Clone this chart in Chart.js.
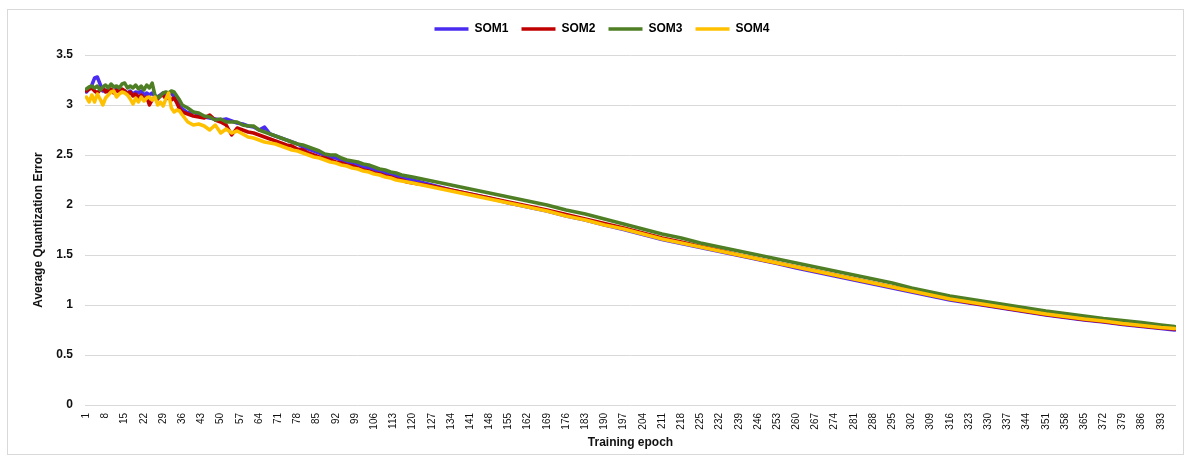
<!DOCTYPE html>
<html>
<head>
<meta charset="utf-8">
<script src="https://cdn.jsdelivr.net/npm/chart.js@4.4.0/dist/chart.umd.min.js"></script>
<style>
  body { margin: 0; background: #fff; }
  #wrap { position: absolute; left: 7px; top: 9px; width: 1175px; height: 444px; border: 1px solid #d9d9d9; }
</style>
</head>
<body>
<div id="wrap"><canvas id="c" width="1175" height="444"></canvas></div>
<script>
var epochs = [1,2,3,4,5,6,7,8,9,10,11,12,13,14,15,16,17,18,19,20,21,22,23,24,25,26,27,28,29,30,31,32,33,34,35,36,
  38,40,42,44,46,48,50,52,54,56,58,60,62,64,66,68,70,72,74,76,78,80,82,84,86,88,90,92,94,96,98,100,102,104,106,108,110,112,114,116,118,120,
  127,134,141,148,155,162,169,176,183,190,197,204,211,218,225,232,239,246,253,260,267,274,281,288,295,302,309,316,323,330,337,344,351,358,365,372,379,386,393,398];

// x axis tick labels (every 7th epoch)
var tickEpochs = [1,8,15,22,29,36,43,50,57,64,71,78,85,92,99,106,113,120,127,134,141,148,155,162,169,176,183,190,197,204,211,218,225,232,239,246,253,260,267,274,281,288,295,302,309,316,323,330,337,344,351,358,365,372,379,386,393];

var som1 = [3.13,3.16,3.20,3.27,3.28,3.21,3.14,3.15,3.13,3.15,3.14,3.16,3.13,3.15,3.14,3.12,3.14,3.11,3.13,3.12,3.14,3.10,3.12,3.10,3.12,3.09,3.08,3.10,3.12,3.09,3.11,3.12,3.08,3.04,3.00,2.96,
  2.92,2.93,2.90,2.88,2.87,2.86,2.85,2.86,2.84,2.82,2.81,2.79,2.78,2.75,2.78,2.71,2.69,2.67,2.65,2.63,2.61,2.58,2.56,2.54,2.52,2.50,2.48,2.47,2.45,2.43,2.41,2.40,2.38,2.37,2.35,2.33,2.32,2.30,2.29,2.27,2.26,2.25,
  2.20,2.15,2.11,2.07,2.02,1.98,1.94,1.89,1.85,1.80,1.755,1.705,1.655,1.615,1.575,1.535,1.495,1.455,1.415,1.37,1.33,1.29,1.25,1.21,1.17,1.13,1.09,1.05,1.02,0.99,0.96,0.93,0.90,0.875,0.85,0.83,0.805,0.785,0.765,0.75];

var som2 = [3.14,3.16,3.17,3.14,3.12,3.15,3.17,3.13,3.15,3.16,3.12,3.15,3.13,3.16,3.14,3.11,3.13,3.09,3.11,3.07,3.10,3.06,3.08,3.00,3.05,3.08,3.06,3.09,3.10,3.06,3.08,3.05,3.07,3.02,2.96,2.93,
  2.91,2.89,2.88,2.87,2.90,2.85,2.83,2.80,2.70,2.77,2.75,2.73,2.72,2.70,2.68,2.66,2.64,2.62,2.60,2.59,2.56,2.55,2.52,2.50,2.48,2.47,2.45,2.43,2.42,2.40,2.39,2.37,2.35,2.34,2.32,2.31,2.29,2.28,2.26,2.25,2.23,2.22,
  2.19,2.15,2.11,2.07,2.03,1.99,1.95,1.905,1.86,1.815,1.77,1.72,1.67,1.63,1.585,1.545,1.50,1.46,1.42,1.38,1.34,1.30,1.26,1.22,1.18,1.14,1.10,1.06,1.025,0.995,0.965,0.935,0.905,0.88,0.855,0.835,0.81,0.79,0.77,0.76];

var som3 = [3.16,3.18,3.19,3.17,3.19,3.15,3.18,3.20,3.17,3.21,3.18,3.19,3.17,3.21,3.22,3.17,3.19,3.17,3.20,3.16,3.19,3.15,3.20,3.17,3.22,3.10,3.07,3.09,3.12,3.13,3.12,3.14,3.13,3.09,3.05,3.00,
  2.97,2.93,2.92,2.89,2.88,2.85,2.86,2.83,2.83,2.83,2.80,2.79,2.79,2.75,2.73,2.71,2.69,2.67,2.65,2.63,2.61,2.60,2.58,2.56,2.54,2.51,2.50,2.50,2.47,2.45,2.44,2.43,2.41,2.40,2.38,2.36,2.35,2.33,2.32,2.30,2.29,2.28,
  2.24,2.20,2.16,2.12,2.08,2.04,2.00,1.95,1.91,1.86,1.81,1.76,1.71,1.67,1.62,1.58,1.54,1.50,1.46,1.42,1.38,1.34,1.30,1.26,1.22,1.17,1.13,1.09,1.06,1.03,1.00,0.97,0.94,0.915,0.89,0.865,0.845,0.825,0.80,0.785];

var som4 = [3.08,3.03,3.10,3.03,3.11,3.06,3.00,3.07,3.10,3.13,3.14,3.08,3.11,3.13,3.12,3.10,3.06,3.01,3.07,3.03,3.08,3.04,3.07,3.08,3.05,3.08,3.00,3.03,2.99,3.06,3.12,2.97,2.93,2.95,2.94,2.90,
  2.83,2.80,2.81,2.79,2.75,2.80,2.72,2.76,2.72,2.74,2.71,2.68,2.67,2.65,2.63,2.62,2.61,2.59,2.57,2.55,2.54,2.52,2.50,2.48,2.47,2.45,2.43,2.42,2.40,2.39,2.37,2.36,2.34,2.33,2.31,2.30,2.28,2.27,2.25,2.24,2.23,2.22,
  2.18,2.14,2.10,2.06,2.02,1.98,1.94,1.89,1.85,1.80,1.76,1.71,1.66,1.62,1.58,1.54,1.50,1.46,1.42,1.38,1.34,1.30,1.26,1.22,1.18,1.14,1.10,1.06,1.03,1.00,0.97,0.94,0.91,0.885,0.86,0.84,0.815,0.795,0.775,0.765];

var seriesNames = ['SOM1', 'SOM2', 'SOM3', 'SOM4'];
var seriesData = [som1, som2, som3, som4];
var seriesColors = ['#4a2cf0', '#c00000', '#4f7f24', '#ffc000'];

var FONT = 'Liberation Sans, Arial, sans-serif';

function toPoints(vals) {
  return vals.map(function (v, i) { return { x: epochs[i], y: v }; });
}

var datasets = seriesNames.map(function (name, i) {
  return {
    label: name,
    data: toPoints(seriesData[i]),
    borderColor: seriesColors[i],
    backgroundColor: seriesColors[i],
    borderWidth: 3.5,
    pointRadius: 0,
    tension: 0,
    borderJoinStyle: 'round',
    borderCapStyle: 'round',
    order: 3 - i   // SOM4 painted on top like in the original
  };
});

// the extra top room for the plot pushes the legend down; lift it back up
var nudgeLegend = {
  id: 'nudgeLegend',
  afterLayout: function (chart) {
    var l = chart.legend;
    if (!l) return;
    l.top -= 10; l.bottom -= 10;
    l.left += 10; l.right += 10;
  }
};

new Chart(document.getElementById('c'), {
  type: 'line',
  data: { datasets: datasets },
  plugins: [nudgeLegend],
  options: {
    responsive: false,
    animation: false,
    devicePixelRatio: 1,
    layout: { padding: { left: 0, right: 7, top: 0, bottom: 0 } },
    plugins: {
      tooltip: { enabled: false },
      legend: {
        position: 'top',
        labels: {
          usePointStyle: true,
          pointStyle: 'line',
          pointStyleWidth: 34,
          padding: 13,
          color: '#000',
          font: { family: FONT, size: 12, weight: 'bold' },
          sort: function (a, b) { return a.datasetIndex - b.datasetIndex; }
        }
      }
    },
    scales: {
      x: {
        type: 'linear',
        min: 0.5,
        max: 398.5,
        grid: { display: false, drawTicks: false },
        border: { display: false },
        afterBuildTicks: function (s) {
          s.ticks = tickEpochs.map(function (v) { return { value: v }; });
        },
        afterFit: function (s) { s.height = 49; },
        ticks: {
          autoSkip: false,
          maxRotation: 90,
          minRotation: 90,
          padding: 8,
          color: '#111',
          font: { family: FONT, size: 10 },
          callback: function (v) { return String(v); }
        },
        title: {
          display: true,
          text: 'Training epoch',
          color: '#111',
          font: { family: FONT, size: 12, weight: 'bold' },
          padding: { top: 0, bottom: 4 }
        }
      },
      y: {
        min: 0,
        max: 3.5,
        grid: { color: '#d9d9d9', lineWidth: 1, drawTicks: false },
        border: { display: false },
        afterFit: function (s) { s.width = 77; s.paddingTop = 45; },
        ticks: {
          stepSize: 0.5,
          padding: 12,
          color: '#111',
          font: { family: FONT, size: 12, weight: 'bold' },
          callback: function (v) { return String(v); }
        },
        title: {
          display: true,
          text: 'Average Quantization Error',
          color: '#111',
          font: { family: FONT, size: 12, weight: 'bold' },
          padding: { top: 23, bottom: 0 }
        }
      }
    }
  }
});
</script>
</body>
</html>
